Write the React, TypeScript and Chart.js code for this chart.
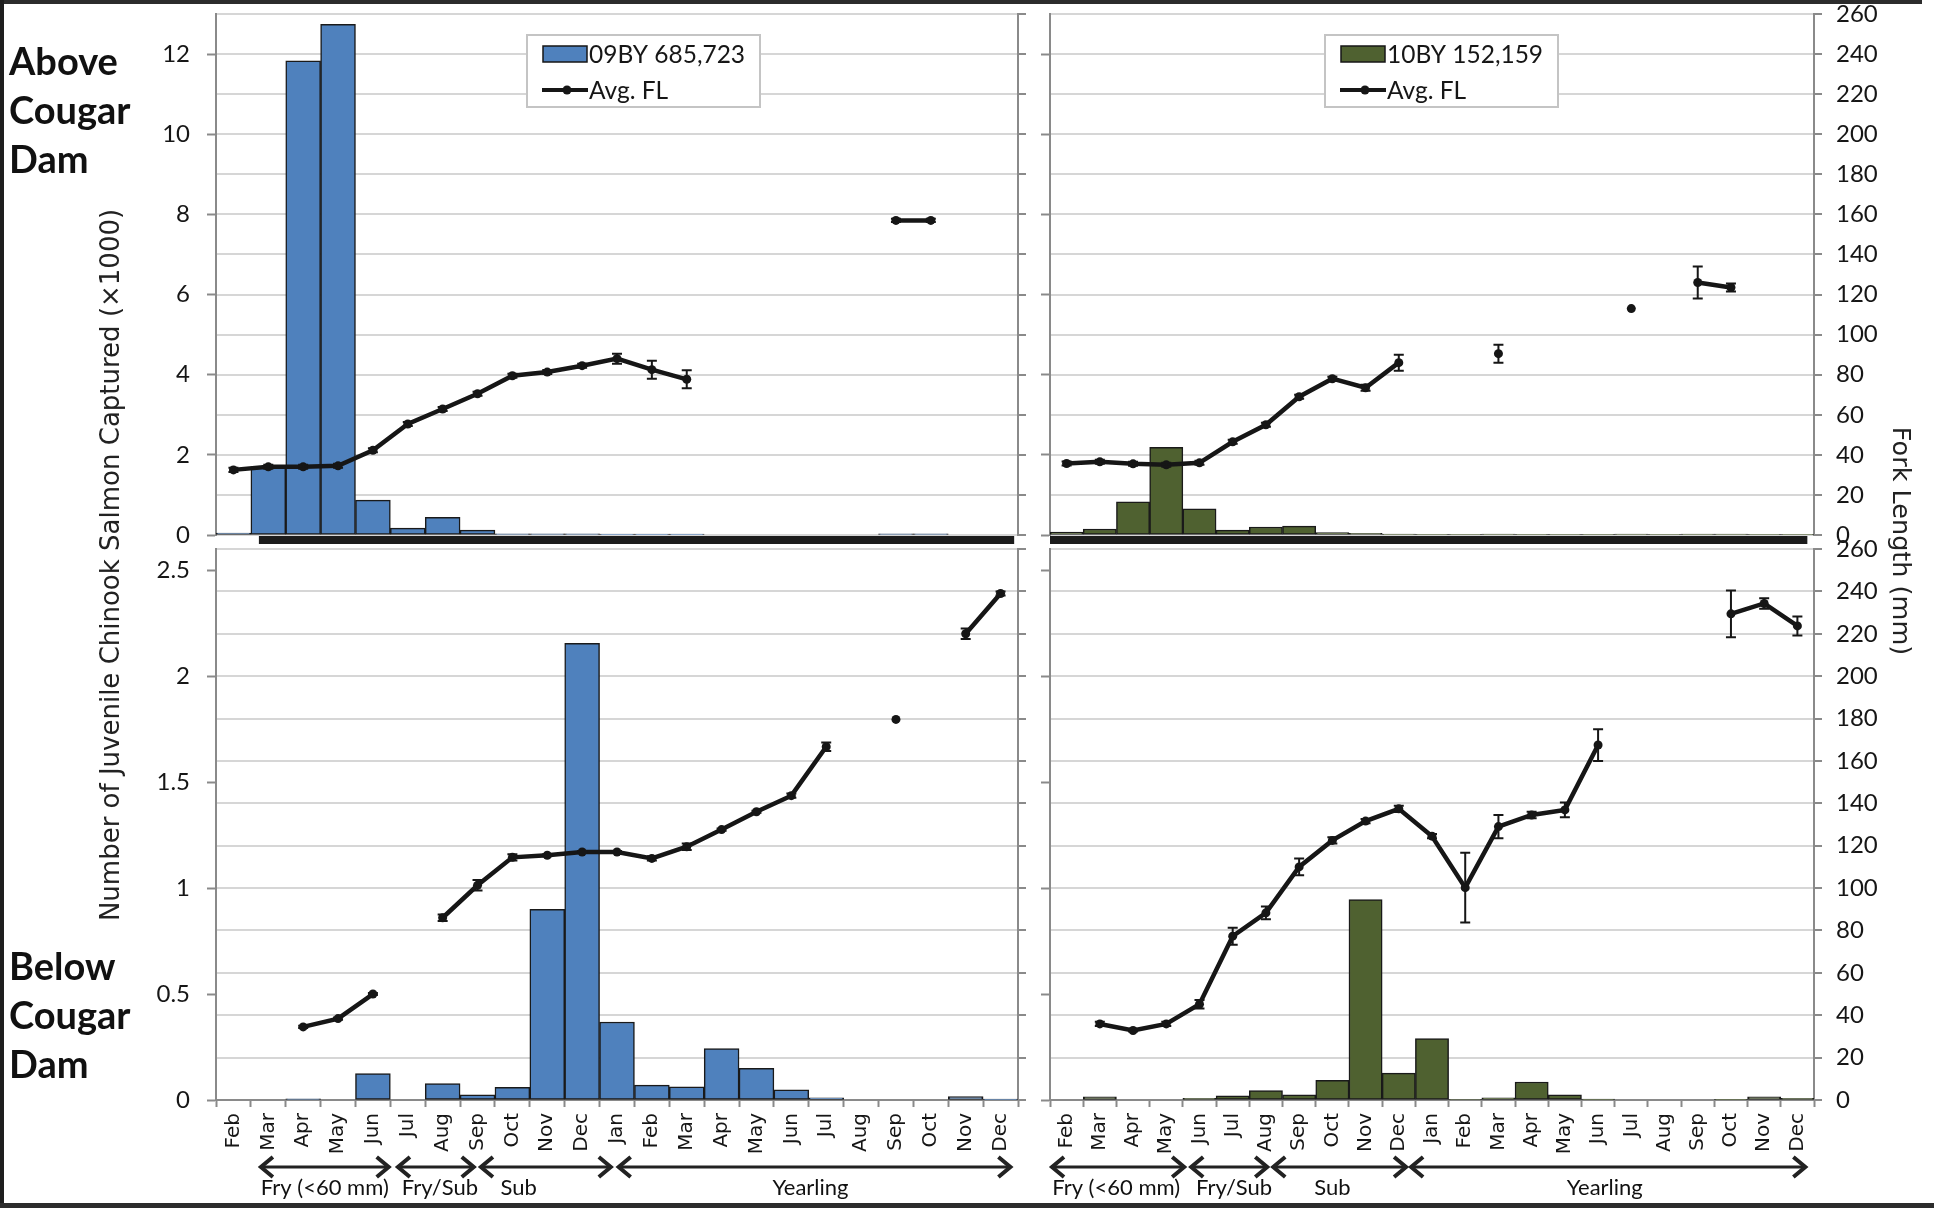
import React, { useEffect, useRef } from 'react';
import { Chart, registerables } from 'chart.js';

Chart.register(...registerables);

const W = 1934;
const H = 1208;

const months = ['Feb', 'Mar', 'Apr', 'May', 'Jun', 'Jul', 'Aug', 'Sep', 'Oct', 'Nov', 'Dec', 'Jan', 'Feb', 'Mar', 'Apr', 'May', 'Jun', 'Jul', 'Aug', 'Sep', 'Oct', 'Nov', 'Dec'];

// Above Cougar Dam, 2009 brood year (count x1000, fork length mm, +/- error)
const above09Count = [0.05, 1.7, 11.83, 12.74, 0.87, 0.17, 0.44, 0.12, 0.03, 0.03, 0.03, 0.02, 0.02, 0.02, 0, 0, 0, 0, 0, 0.03, 0.03, 0, 0];
const above09FL = [32.5, 34, 34, 34.5, 42.3, 55.4, 62.9, 70.5, 79.5, 81.3, 84.5, 88, 82.5, 77.7, null, null, null, null, null, 157, 157, null, null];
const above09Err = [1, 1, 1, 1, 1, 1, 1, 1, 1, 1, 1, 2.5, 4.5, 4.5, null, null, null, null, null, 0.8, 0.8, null, null];

// Above Cougar Dam, 2010 brood year
const above10Count = [0.07, 0.15, 0.83, 2.19, 0.65, 0.12, 0.2, 0.22, 0.06, 0.04, 0.02, 0.01, 0.01, 0.02, 0.01, 0.01, 0.01, 0.02, 0.01, 0.02, 0.02, 0.01, 0.01];
const above10FL = [35.7, 36.5, 35.5, 35, 36, 46.5, 55, 69, 78, 73.5, 86, null, null, 90.5, null, null, null, 113, null, 126, 123.5, null, null];
const above10Err = [1, 1, 1, 1, 1, 1, 1, 1, 1, 1.5, 4, null, null, 4.5, null, null, null, null, null, 8, 2, null, null];

// Below Cougar Dam, 2009 brood year
const below09Count = [0, 0, 0.006, 0, 0.125, 0, 0.077, 0.024, 0.06, 0.9, 2.155, 0.368, 0.07, 0.062, 0.243, 0.15, 0.048, 0.01, 0, 0, 0, 0.016, 0.004];
const below09FL = [null, null, 34.5, 38.4, 50, null, 86, 101.3, 114.5, 115.5, 117, 117, 114, 119.5, 127.6, 136, 143.6, 166.7, null, 179.6, null, 220, 239];
const below09Err = [null, null, 0.5, 0.5, 0.5, null, 1.5, 2.5, 1.5, 0.5, 0.5, 0.5, 1, 1.5, 0.5, 0.5, 1, 2, null, null, null, 2.5, 1];

// Below Cougar Dam, 2010 brood year
const below10Count = [0, 0.015, 0, 0, 0.008, 0.02, 0.045, 0.024, 0.093, 0.946, 0.127, 0.29, 0.002, 0.01, 0.085, 0.024, 0.004, 0, 0, 0, 0.003, 0.015, 0.008];
const below10FL = [null, 35.9, 32.8, 35.9, 45.2, 77.3, 88.3, 110, 122.5, 131.6, 137.4, 124.5, 100.2, 129, 134.5, 136.9, 167.5, null, null, null, 229.4, 234.3, 223.7];
const below10Err = [null, 1, 0.5, 1, 2, 4, 3, 4, 1.5, 1, 1.5, 1, 16.5, 5.5, 1.5, 3.5, 7.5, null, null, null, 11, 2.5, 4.5];

// Life-stage phases (month index spans on the category axis)
const phaseLabels = ['Fry (<60 mm)', 'Fry/Sub', 'Sub', 'Yearling'];
const phases09 = [[0.73, 4.51], [4.66, 6.95], [7.04, 10.88], [10.99, 22.34]];
const phaseLabelAt09 = [2.62, 5.92, 8.18, 16.55];
const phases10 = [[-0.5, 3.6], [3.69, 6.1], [6.16, 10.28], [10.31, 22.3]];
const phaseLabelAt10 = [1.49, 5.04, 8.0, 16.2];

const legend09 = '09BY 685,723';
const legend10 = '10BY 152,159';

const BLUE = '#4f81bd';
const OLIVE = '#4f6130';
const AXIS = '#8a8a8a';
const GRID = '#d6d6d6';
const INK = '#161616';

function drawArrow(ctx: CanvasRenderingContext2D, x1: number, x2: number, y: number) {
  ctx.beginPath();
  ctx.moveTo(x1 + 2, y);
  ctx.lineTo(x2 - 2, y);
  ctx.lineWidth = 3;
  ctx.stroke();
  ctx.beginPath();
  ctx.lineWidth = 4;
  ctx.moveTo(x1 + 14, y - 10);
  ctx.lineTo(x1 + 2, y);
  ctx.lineTo(x1 + 14, y + 10);
  ctx.moveTo(x2 - 14, y - 10);
  ctx.lineTo(x2 - 2, y);
  ctx.lineTo(x2 - 14, y + 10);
  ctx.stroke();
}

const extrasPlugin = {
  id: 'extras',
  afterDatasetsDraw(chart: any) {
    const ctx = chart.ctx as CanvasRenderingContext2D;
    chart.data.datasets.forEach((ds: any, di: number) => {
      if (!ds.errors) return;
      const meta = chart.getDatasetMeta(di);
      const ys = chart.scales[ds.yAxisID];
      ctx.save();
      ctx.strokeStyle = INK;
      ctx.lineWidth = 2;
      ds.errors.forEach((e: number | null, i: number) => {
        const v = ds.data[i];
        if (e == null || v == null || e <= 0) return;
        const x = meta.data[i].x;
        const y1 = ys.getPixelForValue(v - e);
        const y2 = ys.getPixelForValue(v + e);
        ctx.beginPath();
        ctx.moveTo(x, y1);
        ctx.lineTo(x, y2);
        ctx.moveTo(x - 5, y1);
        ctx.lineTo(x + 5, y1);
        ctx.moveTo(x - 5, y2);
        ctx.lineTo(x + 5, y2);
        ctx.stroke();
      });
      ctx.restore();
    });
  },
  afterDraw(chart: any, _args: any, opts: any) {
    const ctx = chart.ctx as CanvasRenderingContext2D;
    const xs = chart.scales.x;
    const area = chart.chartArea;
    ctx.save();
    if (opts.blackBar) {
      const a = xs.getPixelForValue(opts.blackBar[0]);
      const b = xs.getPixelForValue(opts.blackBar[1]);
      ctx.fillStyle = '#1c1c1c';
      ctx.fillRect(a, area.bottom + 1, b - a, 8);
    }
    if (opts.phases) {
      ctx.strokeStyle = '#222';
      ctx.fillStyle = '#111';
      ctx.lineJoin = 'miter';
      const y = opts.arrowY;
      opts.phases.forEach((p: number[], i: number) => {
        const a = xs.getPixelForValue(p[0]);
        const b = xs.getPixelForValue(p[1]);
        drawArrow(ctx, a, b, y);
        ctx.font = '22px Lato';
        ctx.textAlign = 'center';
        ctx.textBaseline = 'alphabetic';
        ctx.fillText(phaseLabels[i], xs.getPixelForValue(opts.phaseLabelAt[i]), opts.labelY);
      });
    }
    if (opts.legend) {
      const { x, y, w, h, label, color } = opts.legend;
      ctx.fillStyle = '#fff';
      ctx.fillRect(x, y, w, h);
      ctx.strokeStyle = '#c4c4c4';
      ctx.lineWidth = 2;
      ctx.strokeRect(x, y, w, h);
      ctx.fillStyle = color;
      ctx.fillRect(x + 16, y + 11, 44, 16);
      ctx.strokeStyle = INK;
      ctx.lineWidth = 1.5;
      ctx.strokeRect(x + 16, y + 11, 44, 16);
      ctx.fillStyle = INK;
      ctx.font = '24.5px Lato';
      ctx.textAlign = 'left';
      ctx.textBaseline = 'alphabetic';
      ctx.fillText(label, x + 62, y + 28);
      ctx.strokeStyle = INK;
      ctx.lineWidth = 4;
      ctx.beginPath();
      ctx.moveTo(x + 15, y + 55);
      ctx.lineTo(x + 61, y + 55);
      ctx.stroke();
      ctx.beginPath();
      ctx.arc(x + 40, y + 55, 4.5, 0, Math.PI * 2);
      ctx.fill();
      ctx.fillText('Avg. FL', x + 62, y + 64);
    }
    ctx.restore();
  },
};

type PanelCfg = {
  counts: number[];
  fl: (number | null)[];
  err: (number | null)[];
  color: string;
  leftMax: number;
  leftStep: number;
  showLeft: boolean;
  showRight: boolean;
  showX: boolean;
  area: number[]; // left, top, right, bottom of plot area
  extras: any;
};

const AXW_L = 60;
const AXW_R = 85;
const XH = 90;

function fmt(v: any) {
  return String(Math.round(Number(v) * 100) / 100);
}

function fixVertical(width: number) {
  return (s: any) => {
    s.width = width;
    s.paddingTop = 0;
    s.paddingBottom = 0;
  };
}

function buildConfig(c: PanelCfg): any {
  const [l, t, r, b] = c.area;
  const tickFont = { family: 'Lato', size: 24 };
  return {
    type: 'bar',
    data: {
      labels: months,
      datasets: [
        {
          type: 'line',
          label: 'Avg. FL',
          data: c.fl,
          errors: c.err,
          yAxisID: 'y2',
          borderColor: INK,
          backgroundColor: INK,
          borderWidth: 4.5,
          pointRadius: 4.5,
          pointBorderWidth: 0,
          pointBackgroundColor: INK,
          spanGaps: false,
          tension: 0,
          order: 0,
        },
        {
          type: 'bar',
          label: 'count',
          data: c.counts,
          yAxisID: 'y',
          backgroundColor: c.color,
          borderColor: '#1a1a1a',
          borderWidth: 1.5,
          borderSkipped: false,
          barPercentage: 1,
          categoryPercentage: 1,
          order: 1,
        },
      ],
    },
    options: {
      responsive: false,
      animation: false,
      devicePixelRatio: 1,
      events: [],
      layout: {
        padding: {
          left: l - AXW_L,
          right: W - r - AXW_R,
          top: t,
          bottom: c.showX ? H - b - XH : H - b,
        },
      },
      plugins: {
        legend: { display: false },
        tooltip: { enabled: false },
        title: { display: false },
        extras: c.extras,
      },
      scales: {
        x: {
          type: 'category',
          display: c.showX,
          offset: true,
          grid: { offset: true, drawOnChartArea: false, tickLength: 7, tickColor: AXIS, tickWidth: 2, color: AXIS },
          border: { color: AXIS, width: 2 },
          ticks: {
            autoSkip: false,
            minRotation: 90,
            maxRotation: 90,
            padding: 6,
            color: INK,
            font: { family: 'DejaVu Sans', size: 20 },
          },
          afterFit: (s: any) => {
            s.height = c.showX ? XH : 0;
            s.paddingLeft = 0;
            s.paddingRight = 0;
          },
        },
        y: {
          position: 'left',
          min: 0,
          max: c.leftMax,
          grid: { drawOnChartArea: false, tickLength: 9, tickColor: AXIS, tickWidth: 2 },
          border: { color: AXIS, width: 2 },
          ticks: {
            stepSize: c.leftStep,
            includeBounds: false,
            display: c.showLeft,
            padding: 17,
            color: INK,
            font: tickFont,
            callback: fmt,
          },
          afterFit: fixVertical(AXW_L),
        },
        y2: {
          position: 'right',
          min: 0,
          max: 260,
          grid: { color: GRID, lineWidth: 2, tickLength: 8, tickColor: AXIS, tickWidth: 2 },
          border: { color: AXIS, width: 2 },
          ticks: { stepSize: 20, display: c.showRight, padding: 14, color: INK, font: tickFont, callback: fmt },
          afterFit: fixVertical(AXW_R),
        },
      },
    },
    plugins: [extrasPlugin],
  };
}

const panels: PanelCfg[] = [
  {
    counts: above09Count,
    fl: above09FL,
    err: above09Err,
    color: BLUE,
    leftMax: 13,
    leftStep: 2,
    showLeft: true,
    showRight: false,
    showX: false,
    area: [216, 14, 1018, 535],
    extras: {
      blackBar: [phases09[0][0], 22.39],
      legend: { x: 527, y: 35, w: 233, h: 72, label: legend09, color: BLUE },
    },
  },
  {
    counts: above10Count,
    fl: above10FL,
    err: above10Err,
    color: OLIVE,
    leftMax: 13,
    leftStep: 2,
    showLeft: false,
    showRight: true,
    showX: false,
    area: [1050, 14, 1814, 535],
    extras: {
      blackBar: [phases10[0][0], phases10[3][1]],
      legend: { x: 1325, y: 35, w: 233, h: 72, label: legend10, color: OLIVE },
    },
  },
  {
    counts: below09Count,
    fl: below09FL,
    err: below09Err,
    color: BLUE,
    leftMax: 2.6,
    leftStep: 0.5,
    showLeft: true,
    showRight: false,
    showX: true,
    area: [216, 549, 1018, 1100],
    extras: { phases: phases09, phaseLabelAt: phaseLabelAt09, arrowY: 1167, labelY: 1195 },
  },
  {
    counts: below10Count,
    fl: below10FL,
    err: below10Err,
    color: OLIVE,
    leftMax: 2.6,
    leftStep: 0.5,
    showLeft: false,
    showRight: true,
    showX: true,
    area: [1050, 549, 1814, 1100],
    extras: { phases: phases10, phaseLabelAt: phaseLabelAt10, arrowY: 1167, labelY: 1195 },
  },
];

function Panel({ cfg }: { cfg: PanelCfg }) {
  const ref = useRef<HTMLCanvasElement>(null);
  useEffect(() => {
    const chart = new Chart(ref.current as HTMLCanvasElement, buildConfig(cfg));
    return () => chart.destroy();
  }, [cfg]);
  return (
    <canvas
      ref={ref}
      width={W}
      height={H}
      style={{ position: 'absolute', left: 0, top: 0, width: W, height: H }}
    />
  );
}

const siteStyle: React.CSSProperties = {
  position: 'absolute',
  left: 9,
  font: 'bold 38px Lato',
  lineHeight: '49px',
  color: '#111',
  whiteSpace: 'pre',
};

export default function App() {
  return (
    <div style={{ position: 'absolute', left: 0, top: 0, width: W, height: H, background: '#fff', overflow: 'hidden' }}>
      {panels.map((p, i) => (
        <Panel key={i} cfg={p} />
      ))}
      <div style={{ ...siteStyle, top: 36 }}>{'Above\nCougar\nDam'}</div>
      <div style={{ ...siteStyle, top: 941 }}>{'Below\nCougar\nDam'}</div>
      <div
        style={{
          position: 'absolute',
          left: 111 - 380,
          top: 565 - 16,
          width: 760,
          height: 32,
          lineHeight: '32px',
          textAlign: 'center',
          font: '26px "DejaVu Sans"',
          color: '#222',
          transform: 'rotate(-90deg)',
          whiteSpace: 'nowrap',
        }}
      >
        Number of Juvenile Chinook Salmon Captured (×1000)
      </div>
      <div
        style={{
          position: 'absolute',
          left: 1901 - 160,
          top: 541 - 16,
          width: 320,
          height: 32,
          lineHeight: '32px',
          textAlign: 'center',
          font: '25.5px "DejaVu Sans"',
          color: '#222',
          transform: 'rotate(90deg)',
          whiteSpace: 'nowrap',
        }}
      >
        Fork Length (mm)
      </div>
      <div style={{ position: 'absolute', left: 0, top: 0, width: 1922, height: 4, background: '#2c2c2c' }} />
      <div style={{ position: 'absolute', left: 0, top: 0, width: 4, height: H, background: '#1e1e1e' }} />
      <div style={{ position: 'absolute', left: 0, top: 1203, width: W, height: 5, background: '#2c2c2c' }} />
    </div>
  );
}
